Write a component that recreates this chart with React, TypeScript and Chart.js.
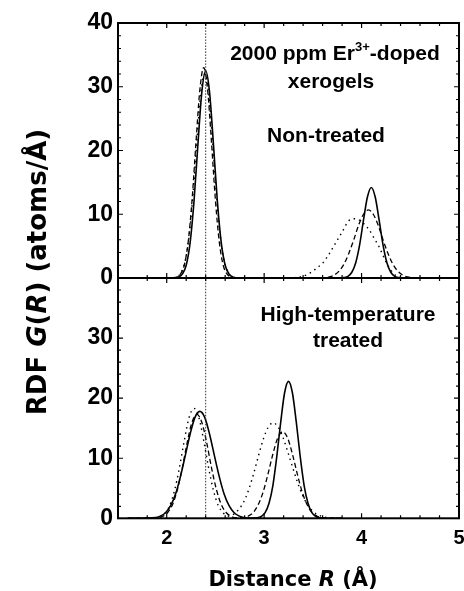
import React, { useEffect, useRef } from "react";
import { Chart, registerables } from "chart.js";

Chart.register(...registerables);

// ---------- axes ----------
const X_MIN = 1.5;
const X_MAX = 5;
const Y_MIN = 0;
const Y_MAX = 40;
const xTickLabels = [2, 3, 4, 5];
const yTopTickLabels = [0, 10, 20, 30, 40];
const yBotTickLabels = [0, 10, 20, 30];
const refLineX = 2.4;

// ---------- top panel: non-treated ----------
const topSolidX = [1.9, 2.08, 2.12, 2.16, 2.2, 2.24, 2.28, 2.32, 2.36, 2.4, 2.44, 2.48, 2.52, 2.56, 2.6, 2.64, 2.68, 2.72, 3.78, 3.82, 3.86, 3.9, 3.94, 3.98, 4.02, 4.06, 4.1, 4.14, 4.18, 4.22, 4.26, 4.3, 4.34, 4.38, 4.42, 4.6];
const topSolidY = [0, 0, 0.14, 0.6, 2.0, 5.5, 12.0, 20.9, 29.1, 32.5, 29.1, 20.9, 12.0, 5.5, 2.0, 0.6, 0.14, 0, 0, 0.06, 0.26, 0.9, 2.4, 5.2, 9.1, 12.7, 14.2, 12.7, 9.1, 5.2, 2.4, 0.9, 0.26, 0.06, 0, 0];

const topDashX = [1.9, 2.06, 2.1, 2.14, 2.18, 2.22, 2.26, 2.3, 2.34, 2.38, 2.42, 2.46, 2.5, 2.54, 2.58, 2.62, 2.66, 2.7, 3.6, 3.67, 3.72, 3.77, 3.82, 3.87, 3.92, 3.97, 4.02, 4.07, 4.12, 4.17, 4.22, 4.27, 4.32, 4.37, 4.42, 4.47, 4.52, 4.6];
const topDashY = [0, 0, 0.14, 0.6, 2.0, 5.6, 12.2, 21.2, 29.5, 33.0, 29.5, 21.2, 12.2, 5.6, 2.0, 0.6, 0.14, 0, 0, 0.18, 0.47, 1.1, 2.2, 3.9, 6.0, 8.3, 10.0, 10.7, 10.0, 8.3, 6.0, 3.9, 2.2, 1.1, 0.47, 0.18, 0.05, 0];

const topDotX = [1.9, 2.07, 2.11, 2.15, 2.19, 2.23, 2.27, 2.31, 2.35, 2.39, 2.43, 2.47, 2.51, 2.55, 2.59, 2.63, 2.67, 2.71, 3.2, 3.3, 3.38, 3.45, 3.51, 3.56, 3.6, 3.66, 3.73, 3.8, 3.87, 3.94, 4.01, 4.08, 4.13, 4.18, 4.23, 4.28, 4.35, 4.42, 4.6];
const topDotY = [0, 0.06, 0.25, 0.9, 2.7, 6.6, 13.2, 21.6, 29.0, 32.0, 29.0, 21.6, 13.2, 6.6, 2.7, 0.9, 0.25, 0.06, 0, 0.05, 0.2, 0.6, 1.2, 1.8, 2.3, 3.6, 5.4, 7.2, 9.0, 9.3, 8.7, 7.5, 6.2, 4.9, 3.2, 1.7, 0.4, 0.08, 0];

// ---------- bottom panel: high-temperature treated ----------
const botSolidX = [1.6, 1.89, 1.94, 1.99, 2.04, 2.09, 2.14, 2.19, 2.24, 2.29, 2.34, 2.39, 2.44, 2.49, 2.54, 2.59, 2.64, 2.69, 2.74, 2.79, 2.85, 2.93, 2.97, 3.01, 3.05, 3.09, 3.13, 3.17, 3.21, 3.25, 3.29, 3.33, 3.37, 3.41, 3.45, 3.49, 3.53, 3.57, 3.62, 3.8];
const botSolidY = [0, 0.14, 0.4, 0.97, 2.1, 4.0, 6.9, 10.4, 14.0, 16.8, 17.8, 16.8, 14.0, 10.4, 6.9, 4.0, 2.1, 0.97, 0.4, 0.14, 0.03, 0.08, 0.3, 0.94, 2.5, 5.5, 10.3, 16.0, 20.9, 22.8, 20.9, 16.0, 10.3, 5.5, 2.5, 0.94, 0.3, 0.08, 0, 0];

const botDashX = [1.6, 1.91, 1.96, 2.01, 2.06, 2.11, 2.16, 2.21, 2.26, 2.31, 2.36, 2.41, 2.46, 2.51, 2.56, 2.61, 2.66, 2.71, 2.79, 2.84, 2.89, 2.94, 2.99, 3.04, 3.09, 3.14, 3.19, 3.24, 3.29, 3.34, 3.39, 3.44, 3.49, 3.54, 3.59, 3.8];
const botDashY = [0, 0.1, 0.34, 0.97, 2.3, 4.8, 8.4, 12.6, 16.0, 17.3, 16.0, 12.6, 8.4, 4.8, 2.3, 0.97, 0.34, 0.1, 0.12, 0.39, 1.0, 2.3, 4.4, 7.4, 10.7, 13.4, 14.4, 13.4, 10.7, 7.4, 4.4, 2.3, 1.0, 0.39, 0.12, 0];

const botDotX = [1.6, 1.88, 1.93, 1.98, 2.03, 2.08, 2.13, 2.18, 2.23, 2.28, 2.33, 2.38, 2.43, 2.48, 2.53, 2.58, 2.63, 2.69, 2.74, 2.79, 2.84, 2.89, 2.94, 2.99, 3.04, 3.09, 3.14, 3.19, 3.24, 3.29, 3.34, 3.39, 3.44, 3.49, 3.54, 3.59, 3.64, 3.8];
const botDotY = [0, 0.07, 0.26, 0.8, 2.1, 4.6, 8.4, 12.9, 16.8, 18.3, 16.8, 12.9, 8.4, 4.6, 2.1, 0.9, 0.35, 0.7, 1.5, 2.7, 4.7, 7.3, 10.3, 13.1, 15.1, 15.9, 15.3, 13.6, 11.2, 8.6, 6.1, 4.0, 2.4, 1.35, 0.7, 0.33, 0.14, 0];

// ---------- text ----------
const topNote1 = ["2000 ppm Er", "3+", "-doped"];
const topNote2 = "xerogels";
const topNote3 = "Non-treated";
const botNote1 = "High-temperature";
const botNote2 = "treated";

const FONT = "'Liberation Sans', Arial, Helvetica, sans-serif";
const WIDE = "'DejaVu Sans', 'Liberation Sans', sans-serif";

const pts = (xs: number[], ys: number[]) => xs.map((x, i) => ({ x, y: ys[i] }));

type Run = { t: string; it?: boolean; size: number; dy?: number; fam?: string };

function drawRuns(ctx: CanvasRenderingContext2D, runs: Run[], cx: number, by: number) {
  let total = 0;
  const widths = runs.map((r) => {
    ctx.font = `${r.it ? "italic " : ""}bold ${r.size}px ${r.fam || FONT}`;
    const w = ctx.measureText(r.t).width;
    total += w;
    return w;
  });
  let x = cx - total / 2;
  runs.forEach((r, i) => {
    ctx.font = `${r.it ? "italic " : ""}bold ${r.size}px ${r.fam || FONT}`;
    ctx.fillText(r.t, x, by + (r.dy || 0));
    x += widths[i];
  });
}

const framePlugin = {
  id: "framePlugin",
  afterDraw(chart: any) {
    const ctx: CanvasRenderingContext2D = chart.ctx;
    const xs = chart.scales.x;
    const panels = [chart.scales.yTop, chart.scales.yBot];
    const left = xs.left;
    const right = xs.right;
    ctx.save();
    ctx.strokeStyle = "#000";
    ctx.fillStyle = "#000";
    // ticks
    ctx.lineWidth = 1.2;
    ctx.beginPath();
    for (const ys of panels) {
      const top = ys.top;
      const bottom = ys.bottom;
      for (const t of ys.ticks) {
        const v = t.value;
        if (v <= Y_MIN || v >= Y_MAX) continue;
        const major = Math.abs(v / 10 - Math.round(v / 10)) < 1e-6;
        const len = major ? 5 : 3;
        const py = ys.getPixelForValue(v);
        ctx.moveTo(left, py);
        ctx.lineTo(left + len, py);
        ctx.moveTo(right, py);
        ctx.lineTo(right - len, py);
      }
      for (const t of xs.ticks) {
        const v = t.value;
        if (Math.abs(v * 5 - Math.round(v * 5)) > 1e-6) continue;
        if (v <= X_MIN || v >= X_MAX) continue;
        const major = Math.abs(v - Math.round(v)) < 1e-6;
        const len = major ? 5 : 3;
        const px = xs.getPixelForValue(v);
        ctx.moveTo(px, top);
        ctx.lineTo(px, top + len);
        ctx.moveTo(px, bottom);
        ctx.lineTo(px, bottom - len);
      }
    }
    ctx.stroke();
    // frames
    ctx.lineWidth = 2;
    for (const ys of panels) {
      ctx.strokeRect(left, ys.top, right - left, ys.bottom - ys.top);
    }
    // annotations
    ctx.textAlign = "left";
    ctx.textBaseline = "alphabetic";
    drawRuns(ctx, [
      { t: topNote1[0], size: 21 },
      { t: topNote1[1], size: 13, dy: -9 },
      { t: topNote1[2], size: 21 },
    ], 335, 60);
    drawRuns(ctx, [{ t: topNote2, size: 21 }], 331, 88);
    drawRuns(ctx, [{ t: topNote3, size: 21 }], 326, 142);
    drawRuns(ctx, [{ t: botNote1, size: 21 }], 348, 321);
    drawRuns(ctx, [{ t: botNote2, size: 21 }], 348, 347);
    // x title
    drawRuns(ctx, [
      { t: "Distance ", size: 21, fam: WIDE },
      { t: "R", it: true, size: 21, fam: WIDE },
      { t: " (Å)", size: 21, fam: WIDE },
    ], 293, 586);
    // y title
    ctx.save();
    ctx.translate(46, 272);
    ctx.rotate(-Math.PI / 2);
    drawRuns(ctx, [
      { t: "RDF ", size: 26, fam: WIDE },
      { t: "G", it: true, size: 26, fam: WIDE },
      { t: "(", size: 26, fam: WIDE },
      { t: "R", it: true, size: 26, fam: WIDE },
      { t: ") (atoms/Å)", size: 26, fam: WIDE },
    ], 0, 0);
    ctx.restore();
    ctx.restore();
  },
};

export default function App() {
  const ref = useRef<HTMLCanvasElement | null>(null);
  useEffect(() => {
    if (!ref.current) return;
    const line = (data: any, axis: string, dash: number[], width: number, color = "#000") => ({
      data,
      yAxisID: axis,
      borderColor: color,
      borderWidth: width,
      borderDash: dash,
      pointRadius: 0,
      fill: false,
      cubicInterpolationMode: "monotone",
    });
    const refTop = pts([refLineX, refLineX], [Y_MIN, Y_MAX]);
    const refBot = pts([refLineX, refLineX], [Y_MIN, Y_MAX]);
    const chart = new Chart(ref.current, {
      type: "line",
      data: {
        datasets: [
          line(refTop, "yTop", [1.5, 1.5], 1, "#333"),
          line(refBot, "yBot", [1.5, 1.5], 1, "#333"),
          line(pts(topDotX, topDotY), "yTop", [1.5, 4], 1.4),
          line(pts(topDashX, topDashY), "yTop", [5, 3], 1.3),
          line(pts(topSolidX, topSolidY), "yTop", [], 1.6),
          line(pts(botDotX, botDotY), "yBot", [1.5, 4], 1.4),
          line(pts(botDashX, botDashY), "yBot", [5, 3], 1.3),
          line(pts(botSolidX, botSolidY), "yBot", [], 1.6),
        ] as any,
      },
      options: {
        responsive: false,
        animation: false,
        devicePixelRatio: 1,
        layout: { padding: { left: 0, right: 5, top: 23, bottom: 0 } },
        plugins: { legend: { display: false }, tooltip: { enabled: false } },
        scales: {
          x: {
            type: "linear",
            min: X_MIN,
            max: X_MAX,
            position: "bottom",
            grid: { display: false, drawTicks: false },
            border: { display: false },
            ticks: {
              stepSize: 0.2,
              autoSkip: false,
              maxRotation: 0,
              padding: 8,
              color: "#000",
              font: { family: FONT, size: 20, weight: "bold" },
              callback: (v: any) => {
                const r = Math.round(v);
                return Math.abs(v - r) < 1e-6 && xTickLabels.includes(r) ? String(r) : "";
              },
            },
            afterFit: (s: any) => {
              s.height = 72.7;
              s.paddingLeft = 0;
              s.paddingRight = 0;
            },
          },
          yTop: {
            type: "linear",
            min: Y_MIN,
            max: Y_MAX,
            position: "left",
            stack: "panels",
            stackWeight: 255,
            weight: 2,
            grid: { display: false, drawTicks: false },
            border: { display: false },
            ticks: {
              stepSize: 2,
              autoSkip: false,
              padding: 5,
              color: "#000",
              font: { family: FONT, size: 23, weight: "bold" },
              callback: (v: any) => {
                const r = Math.round(v);
                return Math.abs(v - r) < 1e-6 && yTopTickLabels.includes(r) ? String(r) : "";
              },
            },
            afterFit: (s: any) => {
              s.width = 118;
              s.paddingTop = 0;
              s.paddingBottom = 0;
            },
          },
          yBot: {
            type: "linear",
            min: Y_MIN,
            max: Y_MAX,
            position: "left",
            stack: "panels",
            stackWeight: 240.3,
            weight: 1,
            grid: { display: false, drawTicks: false },
            border: { display: false },
            ticks: {
              stepSize: 2,
              autoSkip: false,
              padding: 5,
              color: "#000",
              font: { family: FONT, size: 23, weight: "bold" },
              callback: (v: any) => {
                const r = Math.round(v);
                return Math.abs(v - r) < 1e-6 && yBotTickLabels.includes(r) ? String(r) : "";
              },
            },
            afterFit: (s: any) => {
              s.width = 118;
              s.paddingTop = 0;
              s.paddingBottom = 0;
            },
          },
        },
      } as any,
      plugins: [framePlugin],
    });
    return () => chart.destroy();
  }, []);
  return (
    <div style={{ position: "absolute", left: 0, top: 0, width: 464, height: 591, background: "#fff" }}>
      <canvas ref={ref} width={464} height={591} style={{ display: "block", width: 464, height: 591 }} />
    </div>
  );
}
